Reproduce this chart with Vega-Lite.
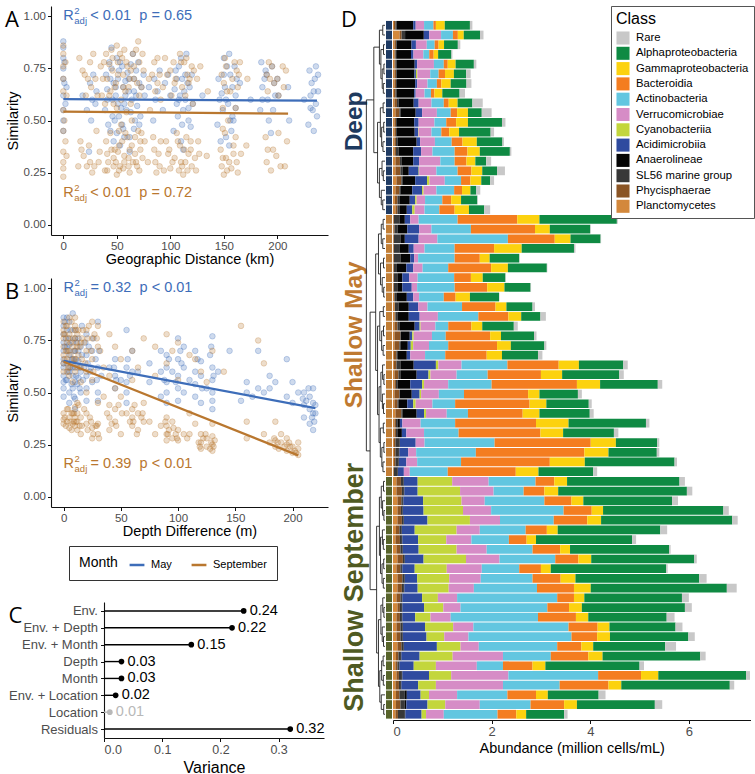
{
  "$schema": "https://vega.github.io/schema/vega-lite/v6.json",
  "background": "white",
  "padding": {"left": 5, "top": 5, "right": 2, "bottom": 2},
  "config": {
    "view": {"stroke": null},
    "font": "Liberation Sans",
    "axis": {"domainColor": "#111", "domainWidth": 1.1, "tickColor": "#111", "tickSize": 3.5, "labelColor": "#4d4d4d", "labelFontSize": 11.5, "titleFontSize": 14.5, "titleFontWeight": "normal", "titleColor": "#000", "grid": false, "labelPadding": 2},
    "title": {"anchor": "start", "frame": "bounds", "baseline": "top", "offset": -26, "fontSize": 22, "fontWeight": "normal", "font": "Open Sans", "color": "#000"}
  },
  "datasets": {
    "geo": [
      {"d":0,"s":0.88,"m":"May"},{"d":0,"s":0.85,"m":"May"},{"d":0,"s":0.80,"m":"May"},{"d":0,"s":0.75,"m":"May"},{"d":0,"s":0.70,"m":"May"},{"d":0,"s":0.62,"m":"May"},{"d":0,"s":0.55,"m":"May"},{"d":0,"s":0.50,"m":"May"},{"d":0,"s":0.45,"m":"May"},
      {"d":18,"s":0.62,"m":"May"},{"d":22,"s":0.55,"m":"May"},{"d":25,"s":0.68,"m":"May"},{"d":27,"s":0.60,"m":"May"},{"d":24,"s":0.35,"m":"May"},{"d":31,"s":0.64,"m":"May"},{"d":30,"s":0.58,"m":"May"},
      {"d":40,"s":0.72,"m":"May"},{"d":41,"s":0.65,"m":"May"},{"d":39,"s":0.55,"m":"May"},{"d":42,"s":0.48,"m":"May"},
      {"d":45,"s":0.85,"m":"May"},{"d":45,"s":0.75,"m":"May"},{"d":46,"s":0.60,"m":"May"},{"d":44,"s":0.45,"m":"May"},{"d":47,"s":0.40,"m":"May"},
      {"d":50,"s":0.80,"m":"May"},{"d":51,"s":0.70,"m":"May"},{"d":49,"s":0.62,"m":"May"},{"d":52,"s":0.52,"m":"May"},{"d":50,"s":0.44,"m":"May"},{"d":53,"s":0.38,"m":"May"},
      {"d":55,"s":0.76,"m":"May"},{"d":56,"s":0.66,"m":"May"},{"d":57,"s":0.58,"m":"May"},{"d":55,"s":0.48,"m":"May"},
      {"d":60,"s":0.73,"m":"May"},{"d":61,"s":0.64,"m":"May"},{"d":59,"s":0.55,"m":"May"},{"d":62,"s":0.42,"m":"May"},
      {"d":65,"s":0.82,"m":"May"},{"d":66,"s":0.70,"m":"May"},{"d":64,"s":0.60,"m":"May"},{"d":67,"s":0.50,"m":"May"},
      {"d":70,"s":0.78,"m":"May"},{"d":71,"s":0.68,"m":"May"},{"d":69,"s":0.57,"m":"May"},{"d":75,"s":0.72,"m":"May"},{"d":76,"s":0.62,"m":"May"},
      {"d":85,"s":0.70,"m":"May"},{"d":86,"s":0.60,"m":"May"},{"d":84,"s":0.50,"m":"May"},{"d":95,"s":0.68,"m":"May"},{"d":93,"s":0.55,"m":"May"},
      {"d":105,"s":0.74,"m":"May"},{"d":104,"s":0.65,"m":"May"},{"d":106,"s":0.58,"m":"May"},{"d":103,"s":0.45,"m":"May"},
      {"d":110,"s":0.80,"m":"May"},{"d":111,"s":0.70,"m":"May"},{"d":109,"s":0.62,"m":"May"},{"d":112,"s":0.55,"m":"May"},{"d":110,"s":0.40,"m":"May"},
      {"d":115,"s":0.82,"m":"May"},{"d":116,"s":0.68,"m":"May"},{"d":114,"s":0.60,"m":"May"},{"d":117,"s":0.50,"m":"May"},{"d":120,"s":0.72,"m":"May"},{"d":121,"s":0.58,"m":"May"},{"d":130,"s":0.62,"m":"May"},
      {"d":145,"s":0.70,"m":"May"},{"d":146,"s":0.60,"m":"May"},{"d":144,"s":0.48,"m":"May"},
      {"d":150,"s":0.80,"m":"May"},{"d":151,"s":0.66,"m":"May"},{"d":149,"s":0.55,"m":"May"},{"d":152,"s":0.42,"m":"May"},
      {"d":155,"s":0.82,"m":"May"},{"d":156,"s":0.72,"m":"May"},{"d":154,"s":0.58,"m":"May"},{"d":157,"s":0.45,"m":"May"},{"d":155,"s":0.38,"m":"May"},
      {"d":160,"s":0.76,"m":"May"},{"d":161,"s":0.62,"m":"May"},{"d":159,"s":0.50,"m":"May"},{"d":165,"s":0.68,"m":"May"},{"d":175,"s":0.60,"m":"May"},
      {"d":185,"s":0.78,"m":"May"},{"d":186,"s":0.66,"m":"May"},{"d":184,"s":0.55,"m":"May"},{"d":190,"s":0.72,"m":"May"},{"d":191,"s":0.60,"m":"May"},
      {"d":195,"s":0.76,"m":"May"},{"d":196,"s":0.55,"m":"May"},{"d":194,"s":0.44,"m":"May"},{"d":200,"s":0.70,"m":"May"},{"d":201,"s":0.62,"m":"May"},
      {"d":210,"s":0.66,"m":"May"},{"d":211,"s":0.50,"m":"May"},{"d":225,"s":0.60,"m":"May"},
      {"d":230,"s":0.74,"m":"May"},{"d":231,"s":0.62,"m":"May"},{"d":229,"s":0.48,"m":"May"},{"d":235,"s":0.70,"m":"May"},{"d":236,"s":0.58,"m":"May"},{"d":234,"s":0.45,"m":"May"},{"d":238,"s":0.64,"m":"May"},{"d":237,"s":0.52,"m":"May"},
      {"d":43,"s":0.78,"m":"May"},{"d":47,"s":0.68,"m":"May"},{"d":52,"s":0.74,"m":"May"},{"d":54,"s":0.56,"m":"May"},{"d":58,"s":0.69,"m":"May"},{"d":63,"s":0.77,"m":"May"},{"d":68,"s":0.62,"m":"May"},{"d":72,"s":0.52,"m":"May"},{"d":48,"s":0.50,"m":"May"},{"d":57,"s":0.42,"m":"May"},{"d":62,"s":0.35,"m":"May"},{"d":66,"s":0.46,"m":"May"},
      {"d":108,"s":0.76,"m":"May"},{"d":113,"s":0.64,"m":"May"},{"d":118,"s":0.66,"m":"May"},{"d":107,"s":0.52,"m":"May"},{"d":119,"s":0.47,"m":"May"},{"d":112,"s":0.36,"m":"May"},
      {"d":148,"s":0.63,"m":"May"},{"d":153,"s":0.76,"m":"May"},{"d":158,"s":0.52,"m":"May"},{"d":162,"s":0.70,"m":"May"},{"d":147,"s":0.40,"m":"May"},{"d":232,"s":0.68,"m":"May"},{"d":236,"s":0.76,"m":"May"},{"d":233,"s":0.55,"m":"May"},
      {"d":188,"s":0.70,"m":"May"},{"d":198,"s":0.62,"m":"May"},{"d":192,"s":0.50,"m":"May"},{"d":3,"s":0.66,"m":"May"},{"d":2,"s":0.58,"m":"May"},{"d":28,"s":0.72,"m":"May"},{"d":80,"s":0.66,"m":"May"},{"d":90,"s":0.74,"m":"May"},{"d":100,"s":0.62,"m":"May"},
      {"d":41,"s":0.60,"m":"May"},{"d":44,"s":0.70,"m":"May"},{"d":46,"s":0.52,"m":"May"},{"d":49,"s":0.66,"m":"May"},{"d":51,"s":0.58,"m":"May"},{"d":53,"s":0.78,"m":"May"},{"d":56,"s":0.46,"m":"May"},{"d":58,"s":0.62,"m":"May"},{"d":61,"s":0.70,"m":"May"},{"d":63,"s":0.54,"m":"May"},{"d":66,"s":0.64,"m":"May"},{"d":68,"s":0.74,"m":"May"},{"d":71,"s":0.48,"m":"May"},{"d":73,"s":0.66,"m":"May"},
      {"d":106,"s":0.70,"m":"May"},{"d":108,"s":0.60,"m":"May"},{"d":111,"s":0.48,"m":"May"},{"d":114,"s":0.72,"m":"May"},{"d":117,"s":0.56,"m":"May"},{"d":150,"s":0.72,"m":"May"},{"d":152,"s":0.60,"m":"May"},{"d":156,"s":0.50,"m":"May"},{"d":158,"s":0.66,"m":"May"},{"d":161,"s":0.56,"m":"May"},
      {"d":186,"s":0.60,"m":"May"},{"d":189,"s":0.74,"m":"May"},{"d":197,"s":0.68,"m":"May"},{"d":231,"s":0.56,"m":"May"},{"d":234,"s":0.64,"m":"May"},{"d":238,"s":0.72,"m":"May"},{"d":1,"s":0.78,"m":"May"},{"d":1,"s":0.68,"m":"May"},{"d":26,"s":0.50,"m":"May"},{"d":88,"s":0.64,"m":"May"},{"d":98,"s":0.72,"m":"May"},
      {"d":0,"s":0.86,"m":"September"},{"d":0,"s":0.82,"m":"September"},{"d":0,"s":0.76,"m":"September"},{"d":0,"s":0.70,"m":"September"},{"d":0,"s":0.64,"m":"September"},{"d":0,"s":0.55,"m":"September"},{"d":0,"s":0.45,"m":"September"},{"d":0,"s":0.35,"m":"September"},{"d":0,"s":0.30,"m":"September"},{"d":0,"s":0.27,"m":"September"},{"d":0,"s":0.23,"m":"September"},
      {"d":15,"s":0.80,"m":"September"},{"d":16,"s":0.40,"m":"September"},{"d":14,"s":0.28,"m":"September"},
      {"d":20,"s":0.72,"m":"September"},{"d":21,"s":0.62,"m":"September"},{"d":19,"s":0.33,"m":"September"},
      {"d":25,"s":0.78,"m":"September"},{"d":26,"s":0.66,"m":"September"},{"d":24,"s":0.38,"m":"September"},{"d":25,"s":0.30,"m":"September"},{"d":27,"s":0.25,"m":"September"},
      {"d":30,"s":0.70,"m":"September"},{"d":31,"s":0.45,"m":"September"},{"d":29,"s":0.28,"m":"September"},
      {"d":35,"s":0.76,"m":"September"},{"d":36,"s":0.62,"m":"September"},{"d":34,"s":0.35,"m":"September"},
      {"d":40,"s":0.82,"m":"September"},{"d":41,"s":0.70,"m":"September"},{"d":39,"s":0.58,"m":"September"},{"d":40,"s":0.40,"m":"September"},{"d":42,"s":0.30,"m":"September"},{"d":41,"s":0.26,"m":"September"},
      {"d":45,"s":0.84,"m":"September"},{"d":46,"s":0.74,"m":"September"},{"d":44,"s":0.64,"m":"September"},{"d":45,"s":0.36,"m":"September"},{"d":47,"s":0.28,"m":"September"},
      {"d":50,"s":0.86,"m":"September"},{"d":51,"s":0.78,"m":"September"},{"d":49,"s":0.68,"m":"September"},{"d":50,"s":0.56,"m":"September"},{"d":52,"s":0.45,"m":"September"},{"d":51,"s":0.35,"m":"September"},{"d":49,"s":0.30,"m":"September"},{"d":50,"s":0.24,"m":"September"},
      {"d":55,"s":0.80,"m":"September"},{"d":56,"s":0.72,"m":"September"},{"d":54,"s":0.60,"m":"September"},{"d":55,"s":0.40,"m":"September"},{"d":57,"s":0.33,"m":"September"},{"d":56,"s":0.27,"m":"September"},
      {"d":60,"s":0.76,"m":"September"},{"d":61,"s":0.66,"m":"September"},{"d":59,"s":0.54,"m":"September"},{"d":60,"s":0.42,"m":"September"},{"d":62,"s":0.36,"m":"September"},{"d":61,"s":0.28,"m":"September"},
      {"d":65,"s":0.82,"m":"September"},{"d":66,"s":0.70,"m":"September"},{"d":64,"s":0.38,"m":"September"},{"d":65,"s":0.30,"m":"September"},
      {"d":70,"s":0.88,"m":"September"},{"d":71,"s":0.78,"m":"September"},{"d":69,"s":0.68,"m":"September"},{"d":70,"s":0.45,"m":"September"},{"d":72,"s":0.36,"m":"September"},{"d":71,"s":0.26,"m":"September"},
      {"d":75,"s":0.74,"m":"September"},{"d":76,"s":0.40,"m":"September"},{"d":74,"s":0.32,"m":"September"},
      {"d":80,"s":0.70,"m":"September"},{"d":81,"s":0.55,"m":"September"},{"d":79,"s":0.30,"m":"September"},
      {"d":85,"s":0.78,"m":"September"},{"d":86,"s":0.64,"m":"September"},{"d":84,"s":0.42,"m":"September"},{"d":85,"s":0.36,"m":"September"},{"d":87,"s":0.25,"m":"September"},
      {"d":90,"s":0.72,"m":"September"},{"d":91,"s":0.60,"m":"September"},{"d":89,"s":0.34,"m":"September"},{"d":90,"s":0.28,"m":"September"},
      {"d":95,"s":0.80,"m":"September"},{"d":96,"s":0.40,"m":"September"},
      {"d":100,"s":0.74,"m":"September"},{"d":101,"s":0.62,"m":"September"},{"d":99,"s":0.36,"m":"September"},{"d":100,"s":0.27,"m":"September"},
      {"d":105,"s":0.70,"m":"September"},{"d":106,"s":0.44,"m":"September"},{"d":104,"s":0.32,"m":"September"},
      {"d":110,"s":0.78,"m":"September"},{"d":111,"s":0.66,"m":"September"},{"d":109,"s":0.38,"m":"September"},{"d":110,"s":0.30,"m":"September"},{"d":112,"s":0.24,"m":"September"},
      {"d":115,"s":0.80,"m":"September"},{"d":116,"s":0.72,"m":"September"},{"d":114,"s":0.62,"m":"September"},{"d":115,"s":0.42,"m":"September"},{"d":117,"s":0.34,"m":"September"},{"d":116,"s":0.26,"m":"September"},
      {"d":120,"s":0.76,"m":"September"},{"d":121,"s":0.58,"m":"September"},{"d":119,"s":0.36,"m":"September"},{"d":120,"s":0.28,"m":"September"},
      {"d":125,"s":0.70,"m":"September"},{"d":126,"s":0.40,"m":"September"},{"d":135,"s":0.64,"m":"September"},{"d":134,"s":0.33,"m":"September"},
      {"d":148,"s":0.72,"m":"September"},{"d":149,"s":0.56,"m":"September"},{"d":147,"s":0.36,"m":"September"},{"d":148,"s":0.28,"m":"September"},{"d":150,"s":0.24,"m":"September"},
      {"d":152,"s":0.76,"m":"September"},{"d":153,"s":0.64,"m":"September"},{"d":151,"s":0.44,"m":"September"},{"d":152,"s":0.32,"m":"September"},
      {"d":158,"s":0.70,"m":"September"},{"d":159,"s":0.38,"m":"September"},{"d":157,"s":0.27,"m":"September"},
      {"d":162,"s":0.74,"m":"September"},{"d":163,"s":0.66,"m":"September"},{"d":161,"s":0.42,"m":"September"},{"d":162,"s":0.30,"m":"September"},
      {"d":165,"s":0.78,"m":"September"},{"d":166,"s":0.34,"m":"September"},{"d":172,"s":0.70,"m":"September"},{"d":171,"s":0.38,"m":"September"},
      {"d":190,"s":0.72,"m":"September"},{"d":191,"s":0.64,"m":"September"},{"d":189,"s":0.42,"m":"September"},{"d":190,"s":0.30,"m":"September"},
      {"d":195,"s":0.76,"m":"September"},{"d":196,"s":0.36,"m":"September"},{"d":194,"s":0.26,"m":"September"},
      {"d":200,"s":0.70,"m":"September"},{"d":201,"s":0.62,"m":"September"},{"d":199,"s":0.33,"m":"September"},
      {"d":208,"s":0.74,"m":"September"},{"d":209,"s":0.40,"m":"September"},{"d":207,"s":0.28,"m":"September"},
      {"d":43,"s":0.77,"m":"September"},{"d":48,"s":0.66,"m":"September"},{"d":53,"s":0.82,"m":"September"},{"d":58,"s":0.64,"m":"September"},{"d":63,"s":0.74,"m":"September"},{"d":68,"s":0.84,"m":"September"},{"d":73,"s":0.66,"m":"September"},
      {"d":47,"s":0.32,"m":"September"},{"d":52,"s":0.38,"m":"September"},{"d":57,"s":0.30,"m":"September"},{"d":62,"s":0.25,"m":"September"},{"d":67,"s":0.34,"m":"September"},{"d":72,"s":0.40,"m":"September"},{"d":44,"s":0.44,"m":"September"},{"d":54,"s":0.48,"m":"September"},{"d":64,"s":0.50,"m":"September"},
      {"d":83,"s":0.72,"m":"September"},{"d":88,"s":0.80,"m":"September"},{"d":93,"s":0.66,"m":"September"},{"d":98,"s":0.34,"m":"September"},{"d":103,"s":0.78,"m":"September"},{"d":108,"s":0.26,"m":"September"},{"d":113,"s":0.36,"m":"September"},{"d":118,"s":0.70,"m":"September"},{"d":123,"s":0.32,"m":"September"},{"d":128,"s":0.76,"m":"September"},{"d":113,"s":0.78,"m":"September"},
      {"d":150,"s":0.68,"m":"September"},{"d":155,"s":0.30,"m":"September"},{"d":160,"s":0.78,"m":"September"},{"d":163,"s":0.25,"m":"September"},{"d":154,"s":0.50,"m":"September"},{"d":192,"s":0.78,"m":"September"},{"d":197,"s":0.68,"m":"September"},{"d":203,"s":0.28,"m":"September"},{"d":206,"s":0.66,"m":"September"},
      {"d":2,"s":0.78,"m":"September"},{"d":2,"s":0.40,"m":"September"},{"d":18,"s":0.74,"m":"September"},{"d":22,"s":0.28,"m":"September"},{"d":33,"s":0.30,"m":"September"},{"d":37,"s":0.70,"m":"September"},
      {"d":41,"s":0.34,"m":"September"},{"d":43,"s":0.62,"m":"September"},{"d":46,"s":0.80,"m":"September"},{"d":48,"s":0.36,"m":"September"},{"d":51,"s":0.72,"m":"September"},{"d":53,"s":0.28,"m":"September"},{"d":56,"s":0.66,"m":"September"},{"d":58,"s":0.44,"m":"September"},{"d":59,"s":0.78,"m":"September"},{"d":61,"s":0.32,"m":"September"},
      {"d":63,"s":0.58,"m":"September"},{"d":66,"s":0.76,"m":"September"},{"d":68,"s":0.30,"m":"September"},{"d":71,"s":0.62,"m":"September"},{"d":73,"s":0.44,"m":"September"},{"d":74,"s":0.82,"m":"September"},{"d":47,"s":0.58,"m":"September"},{"d":52,"s":0.26,"m":"September"},{"d":57,"s":0.84,"m":"September"},{"d":62,"s":0.70,"m":"September"},
      {"d":67,"s":0.42,"m":"September"},{"d":69,"s":0.28,"m":"September"},{"d":86,"s":0.30,"m":"September"},{"d":88,"s":0.68,"m":"September"},{"d":91,"s":0.40,"m":"September"},{"d":94,"s":0.26,"m":"September"},{"d":97,"s":0.72,"m":"September"},{"d":102,"s":0.30,"m":"September"},{"d":104,"s":0.68,"m":"September"},{"d":107,"s":0.40,"m":"September"},
      {"d":109,"s":0.82,"m":"September"},{"d":111,"s":0.28,"m":"September"},{"d":114,"s":0.30,"m":"September"},{"d":117,"s":0.68,"m":"September"},{"d":119,"s":0.40,"m":"September"},{"d":122,"s":0.74,"m":"September"},{"d":124,"s":0.26,"m":"September"},{"d":127,"s":0.34,"m":"September"},
      {"d":149,"s":0.46,"m":"September"},{"d":151,"s":0.80,"m":"September"},{"d":153,"s":0.26,"m":"September"},{"d":156,"s":0.64,"m":"September"},{"d":159,"s":0.34,"m":"September"},{"d":161,"s":0.56,"m":"September"},{"d":164,"s":0.72,"m":"September"},{"d":149,"s":0.32,"m":"September"},
      {"d":191,"s":0.36,"m":"September"},{"d":193,"s":0.70,"m":"September"},{"d":201,"s":0.44,"m":"September"},{"d":205,"s":0.76,"m":"September"},{"d":3,"s":0.62,"m":"September"},{"d":3,"s":0.33,"m":"September"},{"d":1,"s":0.50,"m":"September"},{"d":17,"s":0.36,"m":"September"},{"d":23,"s":0.70,"m":"September"},{"d":28,"s":0.82,"m":"September"},{"d":32,"s":0.62,"m":"September"},{"d":38,"s":0.78,"m":"September"},{"d":39,"s":0.26,"m":"September"}
    ],
    "depth": [
      {"d":0,"s":0.86,"m":"May"},{"d":0,"s":0.82,"m":"May"},{"d":0,"s":0.78,"m":"May"},{"d":0,"s":0.74,"m":"May"},{"d":0,"s":0.70,"m":"May"},{"d":0,"s":0.66,"m":"May"},{"d":0,"s":0.62,"m":"May"},{"d":0,"s":0.58,"m":"May"},{"d":0,"s":0.55,"m":"May"},{"d":0,"s":0.52,"m":"May"},{"d":0,"s":0.48,"m":"May"},
      {"d":3,"s":0.80,"m":"May"},{"d":3,"s":0.72,"m":"May"},{"d":3,"s":0.64,"m":"May"},{"d":3,"s":0.56,"m":"May"},
      {"d":5,"s":0.84,"m":"May"},{"d":5,"s":0.76,"m":"May"},{"d":5,"s":0.68,"m":"May"},{"d":5,"s":0.60,"m":"May"},{"d":5,"s":0.50,"m":"May"},{"d":5,"s":0.45,"m":"May"},
      {"d":8,"s":0.88,"m":"May"},{"d":8,"s":0.74,"m":"May"},{"d":8,"s":0.66,"m":"May"},{"d":8,"s":0.58,"m":"May"},{"d":8,"s":0.52,"m":"May"},
      {"d":10,"s":0.80,"m":"May"},{"d":10,"s":0.70,"m":"May"},{"d":10,"s":0.62,"m":"May"},{"d":10,"s":0.55,"m":"May"},{"d":10,"s":0.47,"m":"May"},{"d":10,"s":0.42,"m":"May"},
      {"d":13,"s":0.76,"m":"May"},{"d":13,"s":0.65,"m":"May"},{"d":13,"s":0.57,"m":"May"},
      {"d":15,"s":0.72,"m":"May"},{"d":15,"s":0.60,"m":"May"},{"d":15,"s":0.50,"m":"May"},
      {"d":20,"s":0.78,"m":"May"},{"d":20,"s":0.68,"m":"May"},{"d":20,"s":0.58,"m":"May"},{"d":20,"s":0.52,"m":"May"},{"d":20,"s":0.46,"m":"May"},
      {"d":25,"s":0.70,"m":"May"},{"d":25,"s":0.55,"m":"May"},
      {"d":30,"s":0.84,"m":"May"},{"d":30,"s":0.62,"m":"May"},{"d":30,"s":0.50,"m":"May"},{"d":30,"s":0.46,"m":"May"},
      {"d":45,"s":0.66,"m":"May"},{"d":45,"s":0.58,"m":"May"},{"d":45,"s":0.52,"m":"May"},
      {"d":55,"s":0.80,"m":"May"},{"d":55,"s":0.62,"m":"May"},{"d":55,"s":0.55,"m":"May"},{"d":55,"s":0.50,"m":"May"},{"d":55,"s":0.45,"m":"May"},
      {"d":60,"s":0.70,"m":"May"},{"d":60,"s":0.60,"m":"May"},{"d":75,"s":0.64,"m":"May"},{"d":75,"s":0.55,"m":"May"},
      {"d":85,"s":0.70,"m":"May"},{"d":85,"s":0.60,"m":"May"},{"d":85,"s":0.48,"m":"May"},
      {"d":90,"s":0.68,"m":"May"},{"d":90,"s":0.62,"m":"May"},{"d":90,"s":0.55,"m":"May"},{"d":90,"s":0.50,"m":"May"},{"d":90,"s":0.45,"m":"May"},
      {"d":100,"s":0.76,"m":"May"},{"d":100,"s":0.66,"m":"May"},{"d":100,"s":0.58,"m":"May"},{"d":100,"s":0.52,"m":"May"},{"d":100,"s":0.46,"m":"May"},
      {"d":105,"s":0.72,"m":"May"},{"d":105,"s":0.62,"m":"May"},{"d":105,"s":0.50,"m":"May"},
      {"d":115,"s":0.70,"m":"May"},{"d":115,"s":0.60,"m":"May"},{"d":115,"s":0.54,"m":"May"},{"d":115,"s":0.48,"m":"May"},
      {"d":120,"s":0.65,"m":"May"},{"d":120,"s":0.58,"m":"May"},{"d":120,"s":0.45,"m":"May"},
      {"d":130,"s":0.77,"m":"May"},{"d":130,"s":0.62,"m":"May"},{"d":130,"s":0.56,"m":"May"},{"d":130,"s":0.50,"m":"May"},{"d":130,"s":0.46,"m":"May"},{"d":130,"s":0.42,"m":"May"},
      {"d":145,"s":0.70,"m":"May"},{"d":155,"s":0.46,"m":"May"},{"d":160,"s":0.55,"m":"May"},{"d":160,"s":0.50,"m":"May"},
      {"d":170,"s":0.70,"m":"May"},{"d":170,"s":0.52,"m":"May"},{"d":175,"s":0.50,"m":"May"},{"d":180,"s":0.58,"m":"May"},{"d":180,"s":0.52,"m":"May"},
      {"d":195,"s":0.66,"m":"May"},{"d":195,"s":0.48,"m":"May"},{"d":200,"s":0.55,"m":"May"},{"d":200,"s":0.45,"m":"May"},
      {"d":210,"s":0.50,"m":"May"},{"d":210,"s":0.44,"m":"May"},{"d":210,"s":0.38,"m":"May"},
      {"d":215,"s":0.48,"m":"May"},{"d":215,"s":0.42,"m":"May"},{"d":215,"s":0.35,"m":"May"},
      {"d":218,"s":0.52,"m":"May"},{"d":218,"s":0.45,"m":"May"},{"d":218,"s":0.40,"m":"May"},{"d":218,"s":0.32,"m":"May"},
      {"d":1,"s":0.84,"m":"May"},{"d":2,"s":0.76,"m":"May"},{"d":4,"s":0.70,"m":"May"},{"d":6,"s":0.62,"m":"May"},{"d":7,"s":0.54,"m":"May"},{"d":9,"s":0.48,"m":"May"},{"d":11,"s":0.66,"m":"May"},{"d":12,"s":0.74,"m":"May"},{"d":14,"s":0.52,"m":"May"},{"d":16,"s":0.82,"m":"May"},
      {"d":18,"s":0.62,"m":"May"},{"d":22,"s":0.72,"m":"May"},{"d":23,"s":0.60,"m":"May"},{"d":28,"s":0.66,"m":"May"},{"d":33,"s":0.58,"m":"May"},{"d":40,"s":0.62,"m":"May"},{"d":50,"s":0.56,"m":"May"},{"d":65,"s":0.60,"m":"May"},{"d":95,"s":0.60,"m":"May"},{"d":102,"s":0.70,"m":"May"},
      {"d":110,"s":0.56,"m":"May"},{"d":125,"s":0.52,"m":"May"},{"d":128,"s":0.68,"m":"May"},{"d":135,"s":0.60,"m":"May"},{"d":165,"s":0.48,"m":"May"},{"d":185,"s":0.55,"m":"May"},{"d":205,"s":0.50,"m":"May"},{"d":212,"s":0.46,"m":"May"},{"d":220,"s":0.40,"m":"May"},{"d":219,"s":0.36,"m":"May"},
      {"d":0,"s":0.64,"m":"May"},{"d":1,"s":0.72,"m":"May"},{"d":2,"s":0.56,"m":"May"},{"d":3,"s":0.86,"m":"May"},{"d":4,"s":0.60,"m":"May"},{"d":5,"s":0.73,"m":"May"},{"d":6,"s":0.80,"m":"May"},{"d":7,"s":0.66,"m":"May"},{"d":8,"s":0.62,"m":"May"},{"d":9,"s":0.70,"m":"May"},
      {"d":10,"s":0.76,"m":"May"},{"d":11,"s":0.58,"m":"May"},{"d":12,"s":0.54,"m":"May"},{"d":13,"s":0.70,"m":"May"},{"d":14,"s":0.62,"m":"May"},{"d":16,"s":0.68,"m":"May"},{"d":17,"s":0.56,"m":"May"},{"d":19,"s":0.74,"m":"May"},{"d":21,"s":0.64,"m":"May"},{"d":24,"s":0.62,"m":"May"},
      {"d":26,"s":0.76,"m":"May"},{"d":29,"s":0.56,"m":"May"},{"d":31,"s":0.70,"m":"May"},{"d":44,"s":0.62,"m":"May"},{"d":46,"s":0.56,"m":"May"},{"d":56,"s":0.66,"m":"May"},{"d":58,"s":0.58,"m":"May"},{"d":88,"s":0.56,"m":"May"},{"d":92,"s":0.66,"m":"May"},{"d":98,"s":0.55,"m":"May"},
      {"d":103,"s":0.64,"m":"May"},{"d":117,"s":0.66,"m":"May"},{"d":121,"s":0.52,"m":"May"},{"d":129,"s":0.72,"m":"May"},{"d":131,"s":0.58,"m":"May"},{"d":209,"s":0.47,"m":"May"},{"d":214,"s":0.52,"m":"May"},{"d":217,"s":0.38,"m":"May"},{"d":220,"s":0.44,"m":"May"},
      {"d":0,"s":0.84,"m":"September"},{"d":0,"s":0.80,"m":"September"},{"d":0,"s":0.76,"m":"September"},{"d":0,"s":0.72,"m":"September"},{"d":0,"s":0.68,"m":"September"},{"d":0,"s":0.64,"m":"September"},{"d":0,"s":0.60,"m":"September"},{"d":0,"s":0.40,"m":"September"},{"d":0,"s":0.37,"m":"September"},{"d":0,"s":0.35,"m":"September"},
      {"d":3,"s":0.82,"m":"September"},{"d":3,"s":0.74,"m":"September"},{"d":3,"s":0.70,"m":"September"},{"d":3,"s":0.66,"m":"September"},{"d":3,"s":0.42,"m":"September"},{"d":3,"s":0.36,"m":"September"},
      {"d":5,"s":0.86,"m":"September"},{"d":5,"s":0.78,"m":"September"},{"d":5,"s":0.70,"m":"September"},{"d":5,"s":0.62,"m":"September"},{"d":5,"s":0.58,"m":"September"},{"d":5,"s":0.38,"m":"September"},{"d":5,"s":0.33,"m":"September"},
      {"d":8,"s":0.80,"m":"September"},{"d":8,"s":0.72,"m":"September"},{"d":8,"s":0.64,"m":"September"},{"d":8,"s":0.55,"m":"September"},{"d":8,"s":0.40,"m":"September"},{"d":8,"s":0.35,"m":"September"},
      {"d":10,"s":0.86,"m":"September"},{"d":10,"s":0.82,"m":"September"},{"d":10,"s":0.76,"m":"September"},{"d":10,"s":0.70,"m":"September"},{"d":10,"s":0.66,"m":"September"},{"d":10,"s":0.60,"m":"September"},{"d":10,"s":0.43,"m":"September"},{"d":10,"s":0.38,"m":"September"},{"d":10,"s":0.34,"m":"September"},
      {"d":12,"s":0.78,"m":"September"},{"d":12,"s":0.72,"m":"September"},{"d":12,"s":0.45,"m":"September"},{"d":12,"s":0.36,"m":"September"},{"d":12,"s":0.32,"m":"September"},
      {"d":15,"s":0.74,"m":"September"},{"d":15,"s":0.62,"m":"September"},{"d":15,"s":0.55,"m":"September"},{"d":15,"s":0.38,"m":"September"},{"d":15,"s":0.30,"m":"September"},
      {"d":20,"s":0.80,"m":"September"},{"d":20,"s":0.70,"m":"September"},{"d":20,"s":0.60,"m":"September"},{"d":20,"s":0.50,"m":"September"},{"d":20,"s":0.40,"m":"September"},{"d":20,"s":0.35,"m":"September"},
      {"d":25,"s":0.84,"m":"September"},{"d":25,"s":0.76,"m":"September"},{"d":25,"s":0.66,"m":"September"},{"d":25,"s":0.56,"m":"September"},{"d":25,"s":0.33,"m":"September"},{"d":25,"s":0.28,"m":"September"},
      {"d":30,"s":0.82,"m":"September"},{"d":30,"s":0.72,"m":"September"},{"d":30,"s":0.45,"m":"September"},{"d":30,"s":0.35,"m":"September"},{"d":30,"s":0.30,"m":"September"},
      {"d":35,"s":0.62,"m":"September"},{"d":35,"s":0.48,"m":"September"},
      {"d":40,"s":0.78,"m":"September"},{"d":40,"s":0.58,"m":"September"},{"d":40,"s":0.44,"m":"September"},{"d":40,"s":0.38,"m":"September"},{"d":40,"s":0.32,"m":"September"},
      {"d":45,"s":0.72,"m":"September"},{"d":45,"s":0.52,"m":"September"},{"d":45,"s":0.42,"m":"September"},{"d":45,"s":0.36,"m":"September"},
      {"d":50,"s":0.66,"m":"September"},{"d":50,"s":0.48,"m":"September"},{"d":50,"s":0.30,"m":"September"},
      {"d":60,"s":0.70,"m":"September"},{"d":60,"s":0.56,"m":"September"},{"d":60,"s":0.42,"m":"September"},{"d":60,"s":0.38,"m":"September"},{"d":60,"s":0.34,"m":"September"},
      {"d":65,"s":0.62,"m":"September"},{"d":65,"s":0.40,"m":"September"},{"d":65,"s":0.32,"m":"September"},
      {"d":70,"s":0.76,"m":"September"},{"d":70,"s":0.45,"m":"September"},{"d":70,"s":0.36,"m":"September"},
      {"d":80,"s":0.72,"m":"September"},{"d":80,"s":0.58,"m":"September"},{"d":80,"s":0.30,"m":"September"},
      {"d":90,"s":0.78,"m":"September"},{"d":90,"s":0.64,"m":"September"},{"d":90,"s":0.38,"m":"September"},{"d":90,"s":0.34,"m":"September"},{"d":90,"s":0.30,"m":"September"},{"d":90,"s":0.27,"m":"September"},
      {"d":95,"s":0.70,"m":"September"},{"d":95,"s":0.36,"m":"September"},{"d":95,"s":0.28,"m":"September"},
      {"d":100,"s":0.74,"m":"September"},{"d":100,"s":0.56,"m":"September"},{"d":100,"s":0.32,"m":"September"},{"d":100,"s":0.27,"m":"September"},
      {"d":110,"s":0.68,"m":"September"},{"d":110,"s":0.40,"m":"September"},{"d":110,"s":0.30,"m":"September"},
      {"d":115,"s":0.66,"m":"September"},{"d":115,"s":0.35,"m":"September"},
      {"d":120,"s":0.60,"m":"September"},{"d":120,"s":0.30,"m":"September"},{"d":120,"s":0.26,"m":"September"},{"d":120,"s":0.23,"m":"September"},
      {"d":125,"s":0.55,"m":"September"},{"d":125,"s":0.28,"m":"September"},{"d":125,"s":0.24,"m":"September"},
      {"d":130,"s":0.70,"m":"September"},{"d":130,"s":0.35,"m":"September"},{"d":130,"s":0.29,"m":"September"},{"d":130,"s":0.25,"m":"September"},{"d":130,"s":0.22,"m":"September"},
      {"d":140,"s":0.60,"m":"September"},{"d":155,"s":0.82,"m":"September"},{"d":160,"s":0.36,"m":"September"},{"d":160,"s":0.28,"m":"September"},
      {"d":170,"s":0.75,"m":"September"},{"d":175,"s":0.64,"m":"September"},{"d":175,"s":0.30,"m":"September"},
      {"d":185,"s":0.36,"m":"September"},{"d":185,"s":0.27,"m":"September"},{"d":185,"s":0.24,"m":"September"},
      {"d":190,"s":0.30,"m":"September"},{"d":190,"s":0.26,"m":"September"},
      {"d":195,"s":0.28,"m":"September"},{"d":195,"s":0.25,"m":"September"},{"d":195,"s":0.22,"m":"September"},
      {"d":200,"s":0.24,"m":"September"},{"d":200,"s":0.21,"m":"September"},
      {"d":205,"s":0.26,"m":"September"},{"d":205,"s":0.23,"m":"September"},{"d":205,"s":0.20,"m":"September"},
      {"d":1,"s":0.78,"m":"September"},{"d":2,"s":0.70,"m":"September"},{"d":4,"s":0.62,"m":"September"},{"d":6,"s":0.74,"m":"September"},{"d":7,"s":0.40,"m":"September"},{"d":9,"s":0.36,"m":"September"},{"d":11,"s":0.80,"m":"September"},{"d":13,"s":0.68,"m":"September"},{"d":14,"s":0.34,"m":"September"},{"d":16,"s":0.76,"m":"September"},
      {"d":18,"s":0.42,"m":"September"},{"d":19,"s":0.64,"m":"September"},{"d":22,"s":0.82,"m":"September"},{"d":23,"s":0.38,"m":"September"},{"d":27,"s":0.78,"m":"September"},{"d":28,"s":0.34,"m":"September"},{"d":32,"s":0.70,"m":"September"},{"d":38,"s":0.40,"m":"September"},{"d":42,"s":0.35,"m":"September"},{"d":48,"s":0.44,"m":"September"},
      {"d":55,"s":0.40,"m":"September"},{"d":58,"s":0.36,"m":"September"},{"d":62,"s":0.44,"m":"September"},{"d":68,"s":0.38,"m":"September"},{"d":75,"s":0.36,"m":"September"},{"d":85,"s":0.34,"m":"September"},{"d":92,"s":0.32,"m":"September"},{"d":98,"s":0.30,"m":"September"},{"d":105,"s":0.30,"m":"September"},{"d":108,"s":0.28,"m":"September"},
      {"d":118,"s":0.26,"m":"September"},{"d":122,"s":0.28,"m":"September"},{"d":128,"s":0.23,"m":"September"},{"d":132,"s":0.27,"m":"September"},{"d":180,"s":0.26,"m":"September"},{"d":188,"s":0.23,"m":"September"},{"d":198,"s":0.24,"m":"September"},{"d":202,"s":0.22,"m":"September"},
      {"d":0,"s":0.78,"m":"September"},{"d":1,"s":0.66,"m":"September"},{"d":2,"s":0.82,"m":"September"},{"d":3,"s":0.60,"m":"September"},{"d":4,"s":0.76,"m":"September"},{"d":6,"s":0.68,"m":"September"},{"d":7,"s":0.84,"m":"September"},{"d":8,"s":0.76,"m":"September"},{"d":9,"s":0.66,"m":"September"},{"d":11,"s":0.74,"m":"September"},
      {"d":12,"s":0.62,"m":"September"},{"d":13,"s":0.80,"m":"September"},{"d":14,"s":0.72,"m":"September"},{"d":16,"s":0.66,"m":"September"},{"d":17,"s":0.80,"m":"September"},{"d":18,"s":0.74,"m":"September"},{"d":21,"s":0.76,"m":"September"},{"d":24,"s":0.70,"m":"September"},{"d":26,"s":0.60,"m":"September"},{"d":29,"s":0.76,"m":"September"},
      {"d":1,"s":0.38,"m":"September"},{"d":2,"s":0.34,"m":"September"},{"d":4,"s":0.42,"m":"September"},{"d":6,"s":0.36,"m":"September"},{"d":7,"s":0.32,"m":"September"},{"d":9,"s":0.40,"m":"September"},{"d":11,"s":0.36,"m":"September"},{"d":12,"s":0.40,"m":"September"},{"d":13,"s":0.44,"m":"September"},{"d":16,"s":0.34,"m":"September"},
      {"d":21,"s":0.32,"m":"September"},{"d":24,"s":0.36,"m":"September"},{"d":26,"s":0.30,"m":"September"},{"d":29,"s":0.34,"m":"September"},{"d":31,"s":0.28,"m":"September"},{"d":46,"s":0.34,"m":"September"},{"d":51,"s":0.40,"m":"September"},{"d":61,"s":0.36,"m":"September"},{"d":64,"s":0.30,"m":"September"},{"d":69,"s":0.40,"m":"September"},
      {"d":89,"s":0.36,"m":"September"},{"d":91,"s":0.30,"m":"September"},{"d":96,"s":0.33,"m":"September"},{"d":99,"s":0.28,"m":"September"},{"d":119,"s":0.24,"m":"September"},{"d":124,"s":0.30,"m":"September"},{"d":129,"s":0.26,"m":"September"},{"d":131,"s":0.24,"m":"September"},{"d":184,"s":0.28,"m":"September"},{"d":187,"s":0.26,"m":"September"},
      {"d":193,"s":0.24,"m":"September"},{"d":197,"s":0.26,"m":"September"},{"d":203,"s":0.21,"m":"September"}
    ],
    "geoFit": [
      {"m":"May","x0":0,"x1":237,"y0":0.603,"y1":0.595},
      {"m":"September","x0":0,"x1":210,"y0":0.543,"y1":0.533}
    ],
    "depthFit": [
      {"m":"May","x0":0,"x1":220,"y0":0.652,"y1":0.425},
      {"m":"September","x0":0,"x1":205,"y0":0.648,"y1":0.198}
    ],
    "geoStats": [
      {"m":"May","x":0,"y":1.0,"stat":"< 0.01","p":"p = 0.65"},
      {"m":"September","x":0,"y":0.15,"stat":"< 0.01","p":"p = 0.72"}
    ],
    "depthStats": [
      {"m":"May","x":0,"y":1.0,"stat":"= 0.32","p":"p < 0.01"},
      {"m":"September","x":0,"y":0.155,"stat":"= 0.39","p":"p < 0.01"}
    ],
    "variance": [
      {"t":"Env.","v":0.24,"sig":"yes"},
      {"t":"Env. + Depth","v":0.22,"sig":"yes"},
      {"t":"Env. + Month","v":0.15,"sig":"yes"},
      {"t":"Depth","v":0.03,"sig":"yes"},
      {"t":"Month","v":0.03,"sig":"yes"},
      {"t":"Env. + Location","v":0.02,"sig":"yes"},
      {"t":"Location","v":0.01,"sig":"no"},
      {"t":"Residuals","v":0.32,"sig":"yes"}
    ],
    "classes": [
      {"code":"Pl","name":"Planctomycetes","rank":1},
      {"code":"Ph","name":"Phycisphaerae","rank":2},
      {"code":"SL","name":"SL56 marine group","rank":3},
      {"code":"An","name":"Anaerolineae","rank":4},
      {"code":"Ac","name":"Acidimicrobiia","rank":5},
      {"code":"Cy","name":"Cyanobacteriia","rank":6},
      {"code":"Ve","name":"Verrucomicrobiae","rank":7},
      {"code":"At","name":"Actinobacteria","rank":8},
      {"code":"Ba","name":"Bacteroidia","rank":9},
      {"code":"Ga","name":"Gammaproteobacteria","rank":10},
      {"code":"Al","name":"Alphaproteobacteria","rank":11},
      {"code":"Ra","name":"Rare","rank":12}
    ],
    "groups": [
      {"g":"Deep","pos":10.9},
      {"g":"Shallow May","pos":32.9},
      {"g":"Shallow September","pos":58.9}
    ],
    "samples": [
      {"id":1,"g":"Deep","Pl":0.02,"Ph":0.03,"SL":0.02,"An":0.34,"Ac":0.05,"Cy":0,"Ve":0.17,"At":0.19,"Ba":0.05,"Ga":0.18,"Al":0.51,"Ra":0.05},
      {"id":2,"g":"Deep","Pl":0.135,"Ph":0.04,"SL":0.07,"An":0.38,"Ac":0.11,"Cy":0,"Ve":0.24,"At":0.24,"Ba":0.10,"Ga":0.12,"Al":0.33,"Ra":0.07},
      {"id":3,"g":"Deep","Pl":0.03,"Ph":0.03,"SL":0.015,"An":0.30,"Ac":0.09,"Cy":0,"Ve":0.22,"At":0.16,"Ba":0.08,"Ga":0.11,"Al":0.28,"Ra":0.05},
      {"id":4,"g":"Deep","Pl":0.03,"Ph":0.02,"SL":0.015,"An":0.30,"Ac":0.05,"Cy":0,"Ve":0.20,"At":0.12,"Ba":0.09,"Ga":0.09,"Al":0.27,"Ra":0.02},
      {"id":5,"g":"Deep","Pl":0.03,"Ph":0.02,"SL":0.02,"An":0.37,"Ac":0.05,"Cy":0,"Ve":0.34,"At":0.20,"Ba":0.08,"Ga":0.16,"Al":0.37,"Ra":0.05},
      {"id":6,"g":"Deep","Pl":0.03,"Ph":0.03,"SL":0.015,"An":0.36,"Ac":0.03,"Cy":0.03,"Ve":0.26,"At":0.17,"Ba":0.13,"Ga":0.18,"Al":0.25,"Ra":0.09},
      {"id":7,"g":"Deep","Pl":0.03,"Ph":0.03,"SL":0.02,"An":0.37,"Ac":0.04,"Cy":0,"Ve":0.21,"At":0.19,"Ba":0.09,"Ga":0.19,"Al":0.32,"Ra":0.10},
      {"id":8,"g":"Deep","Pl":0.02,"Ph":0.03,"SL":0.02,"An":0.36,"Ac":0.03,"Cy":0,"Ve":0.18,"At":0.13,"Ba":0.07,"Ga":0.16,"Al":0.35,"Ra":0.11},
      {"id":9,"g":"Deep","Pl":0.03,"Ph":0.05,"SL":0.03,"An":0.31,"Ac":0.10,"Cy":0,"Ve":0.26,"At":0.25,"Ba":0.10,"Ga":0.18,"Al":0.30,"Ra":0.21},
      {"id":10,"g":"Deep","Pl":0.05,"Ph":0.08,"SL":0.02,"An":0.31,"Ac":0.13,"Cy":0,"Ve":0.30,"At":0.28,"Ba":0.13,"Ga":0.22,"Al":0.28,"Ra":0.20},
      {"id":11,"g":"Deep","Pl":0.03,"Ph":0.03,"SL":0.02,"An":0.35,"Ac":0.09,"Cy":0,"Ve":0.32,"At":0.24,"Ba":0.20,"Ga":0.24,"Al":0.69,"Ra":0.07},
      {"id":12,"g":"Deep","Pl":0.03,"Ph":0.03,"SL":0.02,"An":0.36,"Ac":0.07,"Cy":0.01,"Ve":0.26,"At":0.20,"Ba":0.16,"Ga":0.20,"Al":0.64,"Ra":0.07},
      {"id":13,"g":"Deep","Pl":0.03,"Ph":0.03,"SL":0.03,"An":0.39,"Ac":0.07,"Cy":0,"Ve":0.30,"At":0.34,"Ba":0.22,"Ga":0.29,"Al":0.52,"Ra":0.03},
      {"id":14,"g":"Deep","Pl":0.03,"Ph":0.03,"SL":0.05,"An":0.30,"Ac":0.16,"Cy":0,"Ve":0.23,"At":0.45,"Ba":0.26,"Ga":0.25,"Al":0.61,"Ra":0.03},
      {"id":15,"g":"Deep","Pl":0.05,"Ph":0.09,"SL":0.03,"An":0.24,"Ac":0.12,"Cy":0,"Ve":0.43,"At":0.29,"Ba":0.24,"Ga":0.18,"Al":0.22,"Ra":0.10},
      {"id":16,"g":"Deep","Pl":0.05,"Ph":0.10,"SL":0.05,"An":0.12,"Ac":0.20,"Cy":0.01,"Ve":0.35,"At":0.43,"Ba":0.28,"Ga":0.22,"Al":0.30,"Ra":0.16},
      {"id":17,"g":"Deep","Pl":0.07,"Ph":0.10,"SL":0.03,"An":0.25,"Ac":0.24,"Cy":0.05,"Ve":0.31,"At":0.33,"Ba":0.19,"Ga":0.22,"Al":0.18,"Ra":0.08},
      {"id":18,"g":"Deep","Pl":0.05,"Ph":0.08,"SL":0.03,"An":0.23,"Ac":0.20,"Cy":0.03,"Ve":0.26,"At":0.36,"Ba":0.16,"Ga":0.17,"Al":0.12,"Ra":0.08},
      {"id":19,"g":"Deep","Pl":0.04,"Ph":0.05,"SL":0.05,"An":0.20,"Ac":0.11,"Cy":0.03,"Ve":0.17,"At":0.35,"Ba":0.18,"Ga":0.20,"Al":0.33,"Ra":0.01},
      {"id":20,"g":"Deep","Pl":0.05,"Ph":0.04,"SL":0.05,"An":0.14,"Ac":0.11,"Cy":0.05,"Ve":0.20,"At":0.30,"Ba":0.31,"Ga":0.29,"Al":0.31,"Ra":0.12},
      {"id":21,"g":"Shallow May","Pl":0.01,"Ph":0.01,"SL":0.11,"An":0.11,"Ac":0.11,"Cy":0,"Ve":0.17,"At":0.79,"Ba":1.21,"Ga":0.45,"Al":1.57,"Ra":0.02},
      {"id":22,"g":"Shallow May","Pl":0.01,"Ph":0.02,"SL":0.06,"An":0.20,"Ac":0.24,"Cy":0,"Ve":0.25,"At":0.80,"Ba":1.30,"Ga":0.30,"Al":0.82,"Ra":0.01},
      {"id":23,"g":"Shallow May","Pl":0.01,"Ph":0.01,"SL":0.13,"An":0.09,"Ac":0.28,"Cy":0,"Ve":0.38,"At":1.43,"Ba":0.95,"Ga":0.32,"Al":0.61,"Ra":0.01},
      {"id":24,"g":"Shallow May","Pl":0.01,"Ph":0.01,"SL":0.12,"An":0.18,"Ac":0.10,"Cy":0,"Ve":0.22,"At":0.61,"Ba":0.80,"Ga":0.56,"Al":1.06,"Ra":0.03},
      {"id":25,"g":"Shallow May","Pl":0.01,"Ph":0.01,"SL":0.13,"An":0.20,"Ac":0.08,"Cy":0,"Ve":0.08,"At":0.74,"Ba":0.51,"Ga":0.20,"Al":0.60,"Ra":0.01},
      {"id":26,"g":"Shallow May","Pl":0.01,"Ph":0.01,"SL":0.06,"An":0.19,"Ac":0.14,"Cy":0,"Ve":0.19,"At":0.52,"Ba":0.87,"Ga":0.34,"Al":0.79,"Ra":0.01},
      {"id":27,"g":"Shallow May","Pl":0.01,"Ph":0.01,"SL":0.08,"An":0.09,"Ac":0.14,"Cy":0,"Ve":0.17,"At":0.74,"Ba":0.34,"Ga":0.24,"Al":0.46,"Ra":0.01},
      {"id":28,"g":"Shallow May","Pl":0.01,"Ph":0.01,"SL":0.08,"An":0.09,"Ac":0.19,"Cy":0,"Ve":0.11,"At":0.76,"Ba":0.66,"Ga":0.35,"Al":0.53,"Ra":0.01},
      {"id":29,"g":"Shallow May","Pl":0.02,"Ph":0.01,"SL":0.05,"An":0.20,"Ac":0.13,"Cy":0,"Ve":0.12,"At":0.50,"Ba":0.24,"Ga":0.29,"Al":0.59,"Ra":0.01},
      {"id":30,"g":"Shallow May","Pl":0.03,"Ph":0.01,"SL":0.07,"An":0.21,"Ac":0.19,"Cy":0,"Ve":0.19,"At":0.70,"Ba":0.68,"Ga":0.22,"Al":0.53,"Ra":0.05},
      {"id":31,"g":"Shallow May","Pl":0.03,"Ph":0.02,"SL":0.05,"An":0.22,"Ac":0.22,"Cy":0,"Ve":0.37,"At":0.82,"Ba":0.61,"Ga":0.26,"Al":0.39,"Ra":0.11},
      {"id":32,"g":"Shallow May","Pl":0.03,"Ph":0.06,"SL":0.05,"An":0.30,"Ac":0.10,"Cy":0.02,"Ve":0.30,"At":0.26,"Ba":0.47,"Ga":0.22,"Al":0.64,"Ra":0.08},
      {"id":33,"g":"Shallow May","Pl":0.03,"Ph":0.12,"SL":0.01,"An":0.18,"Ac":0.05,"Cy":0.03,"Ve":0.37,"At":0.28,"Ba":0.90,"Ga":0.22,"Al":0.67,"Ra":0.05},
      {"id":34,"g":"Shallow May","Pl":0.03,"Ph":0.10,"SL":0.03,"An":0.14,"Ac":0.06,"Cy":0.05,"Ve":0.32,"At":0.39,"Ba":0.99,"Ga":0.28,"Al":0.68,"Ra":0.04},
      {"id":35,"g":"Shallow May","Pl":0.02,"Ph":0.05,"SL":0.03,"An":0.18,"Ac":0.07,"Cy":0,"Ve":0.30,"At":0.41,"Ba":0.84,"Ga":0.31,"Al":0.73,"Ra":0.09},
      {"id":36,"g":"Shallow May","Pl":0.02,"Ph":0.05,"SL":0.08,"An":0.27,"Ac":0.45,"Cy":0.05,"Ve":0.47,"At":0.93,"Ba":1.04,"Ga":0.41,"Al":0.90,"Ra":0.09},
      {"id":37,"g":"Shallow May","Pl":0.03,"Ph":0.08,"SL":0.05,"An":0.32,"Ac":0.24,"Cy":0.04,"Ve":0.53,"At":0.63,"Ba":1.08,"Ga":0.43,"Al":1.16,"Ra":0.09},
      {"id":38,"g":"Shallow May","Pl":0.03,"Ph":0.03,"SL":0.03,"An":0.26,"Ac":0.24,"Cy":0.04,"Ve":0.49,"At":0.88,"Ba":1.73,"Ga":0.47,"Al":1.17,"Ra":0.09},
      {"id":39,"g":"Shallow May","Pl":0.03,"Ph":0.10,"SL":0.01,"An":0.24,"Ac":0.16,"Cy":0.03,"Ve":0.36,"At":0.51,"Ba":1.30,"Ga":0.23,"Al":0.78,"Ra":0.08},
      {"id":40,"g":"Shallow May","Pl":0.03,"Ph":0.06,"SL":0.02,"An":0.18,"Ac":0.12,"Cy":0.05,"Ve":0.34,"At":0.46,"Ba":1.51,"Ga":0.34,"Al":0.86,"Ra":0.06},
      {"id":41,"g":"Shallow May","Pl":0.05,"Ph":0.12,"SL":0.02,"An":0.29,"Ac":0.15,"Cy":0.04,"Ve":0.42,"At":0.43,"Ba":1.11,"Ga":0.34,"Al":1.02,"Ra":0.08},
      {"id":42,"g":"Shallow May","Pl":0.03,"Ph":0.03,"SL":0.03,"An":0.05,"Ac":0.05,"Cy":0,"Ve":0.37,"At":0.70,"Ba":1.64,"Ga":0.66,"Al":1.57,"Ra":0.07},
      {"id":43,"g":"Shallow May","Pl":0.03,"Ph":0.03,"SL":0.04,"An":0.08,"Ac":0.09,"Cy":0,"Ve":0.36,"At":0.70,"Ba":1.66,"Ga":0.46,"Al":1.03,"Ra":0.09},
      {"id":44,"g":"Shallow May","Pl":0.02,"Ph":0.03,"SL":0.08,"An":0.01,"Ac":0.32,"Cy":0,"Ve":0.18,"At":1.42,"Ba":1.95,"Ga":0.51,"Al":0.84,"Ra":0.04},
      {"id":45,"g":"Shallow May","Pl":0.02,"Ph":0.03,"SL":0.07,"An":0.01,"Ac":0.18,"Cy":0,"Ve":0.16,"At":1.21,"Ba":2.20,"Ga":0.49,"Al":0.98,"Ra":0.05},
      {"id":46,"g":"Shallow May","Pl":0.02,"Ph":0.03,"SL":0.06,"An":0.01,"Ac":0.15,"Cy":0,"Ve":0.22,"At":0.89,"Ba":1.80,"Ga":0.71,"Al":1.82,"Ra":0.05},
      {"id":47,"g":"Shallow May","Pl":0.01,"Ph":0.01,"SL":0.07,"An":0.01,"Ac":0.12,"Cy":0,"Ve":0.12,"At":0.77,"Ba":1.38,"Ga":0.46,"Al":1.11,"Ra":0.08},
      {"id":48,"g":"Shallow September","Pl":0.07,"Ph":0.09,"SL":0.05,"An":0.01,"Ac":0.28,"Cy":0.70,"Ve":0.74,"At":0.95,"Ba":0.38,"Ga":0.26,"Al":2.28,"Ra":0.11},
      {"id":49,"g":"Shallow September","Pl":0.07,"Ph":0.11,"SL":0.04,"An":0.01,"Ac":0.27,"Cy":0.86,"Ve":0.68,"At":0.61,"Ba":0.42,"Ga":0.28,"Al":2.61,"Ra":0.11},
      {"id":50,"g":"Shallow September","Pl":0.09,"Ph":0.08,"SL":0.03,"An":0.01,"Ac":0.40,"Cy":0.78,"Ve":0.47,"At":1.21,"Ba":0.55,"Ga":0.24,"Al":1.80,"Ra":0.12},
      {"id":51,"g":"Shallow September","Pl":0.09,"Ph":0.07,"SL":0.03,"An":0.01,"Ac":0.42,"Cy":0.80,"Ve":0.57,"At":1.47,"Ba":0.57,"Ga":0.23,"Al":2.44,"Ra":0.11},
      {"id":52,"g":"Shallow September","Pl":0.09,"Ph":0.09,"SL":0.03,"An":0.01,"Ac":0.48,"Cy":0.86,"Ve":0.61,"At":1.09,"Ba":0.68,"Ga":0.28,"Al":2.66,"Ra":0.11},
      {"id":53,"g":"Shallow September","Pl":0.06,"Ph":0.07,"SL":0.04,"An":0.01,"Ac":0.26,"Cy":0.85,"Ve":0.47,"At":0.93,"Ba":0.43,"Ga":0.22,"Al":2.08,"Ra":0.14},
      {"id":54,"g":"Shallow September","Pl":0.05,"Ph":0.09,"SL":0.04,"An":0.01,"Ac":0.32,"Cy":0.57,"Ve":0.51,"At":0.76,"Ba":0.36,"Ga":0.19,"Al":1.95,"Ra":0.08},
      {"id":55,"g":"Shallow September","Pl":0.07,"Ph":0.08,"SL":0.04,"An":0.01,"Ac":0.32,"Cy":0.77,"Ve":0.61,"At":0.93,"Ba":0.56,"Ga":0.20,"Al":2.01,"Ra":0.03},
      {"id":56,"g":"Shallow September","Pl":0.09,"Ph":0.11,"SL":0.03,"An":0.01,"Ac":0.38,"Cy":0.86,"Ve":0.68,"At":1.13,"Ba":0.47,"Ga":0.26,"Al":2.09,"Ra":0.05},
      {"id":57,"g":"Shallow September","Pl":0.07,"Ph":0.08,"SL":0.03,"An":0.01,"Ac":0.25,"Cy":0.65,"Ve":0.71,"At":0.76,"Ba":0.44,"Ga":0.20,"Al":2.34,"Ra":0.03},
      {"id":58,"g":"Shallow September","Pl":0.09,"Ph":0.10,"SL":0.04,"An":0.01,"Ac":0.25,"Cy":0.65,"Ve":0.64,"At":1.05,"Ba":0.57,"Ga":0.30,"Al":2.51,"Ra":0.15},
      {"id":59,"g":"Shallow September","Pl":0.09,"Ph":0.09,"SL":0.04,"An":0.01,"Ac":0.27,"Cy":0.63,"Ve":0.51,"At":1.28,"Ba":0.75,"Ga":0.34,"Al":2.76,"Ra":0.20},
      {"id":60,"g":"Shallow September","Pl":0.07,"Ph":0.08,"SL":0.03,"An":0.01,"Ac":0.40,"Cy":0.32,"Ve":0.39,"At":2.03,"Ba":0.34,"Ga":0.21,"Al":1.98,"Ra":0.14},
      {"id":61,"g":"Shallow September","Pl":0.09,"Ph":0.05,"SL":0.04,"An":0.01,"Ac":0.44,"Cy":0.39,"Ve":0.35,"At":1.76,"Ba":0.44,"Ga":0.26,"Al":2.09,"Ra":0.14},
      {"id":62,"g":"Shallow September","Pl":0.07,"Ph":0.07,"SL":0.04,"An":0.01,"Ac":0.26,"Cy":0.31,"Ve":0.41,"At":1.77,"Ba":0.77,"Ga":0.25,"Al":1.59,"Ra":0.16},
      {"id":63,"g":"Shallow September","Pl":0.07,"Ph":0.08,"SL":0.04,"An":0.01,"Ac":0.45,"Cy":0.57,"Ve":0.41,"At":1.93,"Ba":0.59,"Ga":0.24,"Al":1.34,"Ra":0.14},
      {"id":64,"g":"Shallow September","Pl":0.07,"Ph":0.08,"SL":0.04,"An":0.01,"Ac":0.48,"Cy":0.36,"Ve":0.49,"At":2.09,"Ba":0.52,"Ga":0.26,"Al":1.59,"Ra":0.13},
      {"id":65,"g":"Shallow September","Pl":0.09,"Ph":0.08,"SL":0.04,"An":0.01,"Ac":0.67,"Cy":0.48,"Ve":0.37,"At":1.59,"Ba":0.49,"Ga":0.24,"Al":1.46,"Ra":0.22},
      {"id":66,"g":"Shallow September","Pl":0.06,"Ph":0.05,"SL":0.05,"An":0.01,"Ac":0.37,"Cy":0.67,"Ve":1.02,"At":0.97,"Ba":0.76,"Ga":0.29,"Al":1.98,"Ra":0.11},
      {"id":67,"g":"Shallow September","Pl":0.05,"Ph":0.04,"SL":0.03,"An":0.01,"Ac":0.29,"Cy":0.45,"Ve":0.83,"At":0.53,"Ba":0.60,"Ga":0.26,"Al":1.91,"Ra":0.09},
      {"id":68,"g":"Shallow September","Pl":0.07,"Ph":0.05,"SL":0.06,"An":0.01,"Ac":0.54,"Cy":0.45,"Ve":1.16,"At":1.82,"Ba":0.87,"Ga":0.35,"Al":1.78,"Ra":0.08},
      {"id":69,"g":"Shallow September","Pl":0.05,"Ph":0.07,"SL":0.04,"An":0.01,"Ac":0.34,"Cy":0.36,"Ve":1.36,"At":1.15,"Ba":0.99,"Ga":0.26,"Al":2.20,"Ra":0.09},
      {"id":70,"g":"Shallow September","Pl":0.06,"Ph":0.07,"SL":0.11,"An":0.04,"Ac":0.28,"Cy":0.17,"Ve":0.57,"At":1.02,"Ba":0.58,"Ga":0.24,"Al":1.03,"Ra":0.14},
      {"id":71,"g":"Shallow September","Pl":0.06,"Ph":0.09,"SL":0.09,"An":0.03,"Ac":0.43,"Cy":0.36,"Ve":0.70,"At":1.03,"Ba":0.68,"Ga":0.26,"Al":1.58,"Ra":0.15},
      {"id":72,"g":"Shallow September","Pl":0.05,"Ph":0.05,"SL":0.14,"An":0.01,"Ac":0.33,"Cy":0.09,"Ve":0.36,"At":1.09,"Ba":0.38,"Ga":0.20,"Al":0.77,"Ra":0.07}
    ],
    "tree": [
      {"h":1.2,"ya":1,"yb":2,"ha":0,"hb":0},{"h":0.8,"ya":3,"yb":4,"ha":0,"hb":0},{"h":0.6,"ya":5,"yb":6,"ha":0,"hb":0},{"h":0.9,"ya":7,"yb":8,"ha":0,"hb":0},
      {"h":1.5,"ya":5.5,"yb":7.5,"ha":0.6,"hb":0.9},{"h":2.2,"ya":3.5,"yb":6.5,"ha":0.8,"hb":1.5},{"h":3,"ya":1.5,"yb":5,"ha":1.2,"hb":2.2},
      {"h":1,"ya":9,"yb":10,"ha":0,"hb":0},{"h":0.7,"ya":11,"yb":12,"ha":0,"hb":0},{"h":1.1,"ya":13,"yb":14,"ha":0,"hb":0},
      {"h":1.8,"ya":11.5,"yb":13.5,"ha":0.7,"hb":1.1},{"h":2.5,"ya":9.5,"yb":12.5,"ha":1,"hb":1.8},
      {"h":0.9,"ya":16,"yb":17,"ha":0,"hb":0},{"h":1.6,"ya":15,"yb":16.5,"ha":0,"hb":0.9},{"h":1.2,"ya":19,"yb":20,"ha":0,"hb":0},{"h":2,"ya":18,"yb":19.5,"ha":0,"hb":1.2},
      {"h":3,"ya":15.75,"yb":18.75,"ha":1.6,"hb":2},{"h":4,"ya":11,"yb":17.25,"ha":2.5,"hb":3},{"h":6,"ya":3.25,"yb":14.125,"ha":3,"hb":4},
      {"h":1,"ya":21,"yb":22,"ha":0,"hb":0},{"h":1.2,"ya":23,"yb":24,"ha":0,"hb":0},{"h":2,"ya":21.5,"yb":23.5,"ha":1,"hb":1.2},
      {"h":0.8,"ya":25,"yb":26,"ha":0,"hb":0},{"h":0.7,"ya":28,"yb":29,"ha":0,"hb":0},{"h":1.5,"ya":27,"yb":28.5,"ha":0,"hb":0.7},
      {"h":2.4,"ya":25.5,"yb":27.75,"ha":0.8,"hb":1.5},{"h":3.5,"ya":22.5,"yb":26.625,"ha":2,"hb":2.4},
      {"h":0.9,"ya":30,"yb":31,"ha":0,"hb":0},{"h":0.8,"ya":32,"yb":33,"ha":0,"hb":0},{"h":1,"ya":34,"yb":35,"ha":0,"hb":0},
      {"h":1.8,"ya":32.5,"yb":34.5,"ha":0.8,"hb":1},{"h":2.8,"ya":30.5,"yb":33.5,"ha":0.9,"hb":1.8},
      {"h":0.6,"ya":37,"yb":38,"ha":0,"hb":0},{"h":1.3,"ya":36,"yb":37.5,"ha":0,"hb":0.6},{"h":0.8,"ya":40,"yb":41,"ha":0,"hb":0},{"h":1.4,"ya":39,"yb":40.5,"ha":0,"hb":0.8},
      {"h":2.2,"ya":36.75,"yb":39.75,"ha":1.3,"hb":1.4},
      {"h":0.9,"ya":42,"yb":43,"ha":0,"hb":0},{"h":0.6,"ya":44,"yb":45,"ha":0,"hb":0},{"h":1.1,"ya":46,"yb":47,"ha":0,"hb":0},
      {"h":1.7,"ya":44.5,"yb":46.5,"ha":0.6,"hb":1.1},{"h":2.5,"ya":42.5,"yb":45.5,"ha":0.9,"hb":1.7},
      {"h":3.2,"ya":38.25,"yb":44,"ha":2.2,"hb":2.5},{"h":4,"ya":32,"yb":41.125,"ha":2.8,"hb":3.2},{"h":5,"ya":24.5625,"yb":36.5625,"ha":3.5,"hb":4},
      {"h":0.8,"ya":48,"yb":49,"ha":0,"hb":0},{"h":0.6,"ya":51,"yb":52,"ha":0,"hb":0},{"h":1.3,"ya":50,"yb":51.5,"ha":0,"hb":0.6},{"h":2,"ya":48.5,"yb":50.75,"ha":0.8,"hb":1.3},
      {"h":0.9,"ya":54,"yb":55,"ha":0,"hb":0},{"h":1.4,"ya":53,"yb":54.5,"ha":0,"hb":0.9},{"h":0.7,"ya":56,"yb":57,"ha":0,"hb":0},{"h":0.9,"ya":58,"yb":59,"ha":0,"hb":0},
      {"h":1.6,"ya":56.5,"yb":58.5,"ha":0.7,"hb":0.9},{"h":2.4,"ya":53.75,"yb":57.5,"ha":1.4,"hb":1.6},{"h":3,"ya":49.625,"yb":55.625,"ha":2,"hb":2.4},
      {"h":0.6,"ya":61,"yb":62,"ha":0,"hb":0},{"h":1.2,"ya":60,"yb":61.5,"ha":0,"hb":0.6},{"h":0.8,"ya":64,"yb":65,"ha":0,"hb":0},{"h":1.5,"ya":63,"yb":64.5,"ha":0,"hb":0.8},
      {"h":2.2,"ya":60.75,"yb":63.75,"ha":1.2,"hb":1.5},
      {"h":1,"ya":66,"yb":67,"ha":0,"hb":0},{"h":0.9,"ya":68,"yb":69,"ha":0,"hb":0},{"h":1.8,"ya":66.5,"yb":68.5,"ha":1,"hb":0.9},
      {"h":0.7,"ya":71,"yb":72,"ha":0,"hb":0},{"h":2,"ya":70,"yb":71.5,"ha":0,"hb":0.7},{"h":2.8,"ya":67.5,"yb":70.75,"ha":1.8,"hb":2},
      {"h":3.5,"ya":62.25,"yb":69.125,"ha":2.2,"hb":2.8},{"h":4.5,"ya":52.625,"yb":65.6875,"ha":3,"hb":3.5},
      {"h":8,"ya":30.5625,"yb":59.15625,"ha":5,"hb":4.5},{"h":10,"ya":8.6875,"yb":44.859375,"ha":6,"hb":8}
    ]
  },
  "concat": [
    {
      "concat": [
        {
          "concat": [
            {
              "width": 277,
              "height": 229,
              "title": {"text": "A"},
              "layer": [
                {
                  "data": {"name": "geo"},
                  "mark": {"type": "point", "filled": true, "size": 32, "fillOpacity": 0.25, "strokeOpacity": 0.35, "strokeWidth": 0.8},
                  "encoding": {
                    "x": {"field": "d", "type": "quantitative", "scale": {"domain": [-11.5, 247.3], "nice": false, "zero": false}, "axis": {"values": [0, 50, 100, 150, 200], "title": "Geographic Distance (km)", "titlePadding": 0}},
                    "y": {"field": "s", "type": "quantitative", "scale": {"domain": [-0.05, 1.05], "nice": false, "zero": false}, "axis": {"values": [0, 0.25, 0.5, 0.75, 1], "format": ".2f", "title": "Similarity", "titlePadding": 3}},
                    "fill": {"field": "m", "type": "nominal", "scale": {"range": ["#3d6db9", "#b9772f"]}, "legend": null},
                    "stroke": {"field": "m", "type": "nominal", "scale": {"range": ["#3d6db9", "#b9772f"]}, "legend": null}
                  }
                },
                {
                  "data": {"name": "geoFit"},
                  "mark": {"type": "rule", "strokeWidth": 2.2},
                  "encoding": {
                    "x": {"field": "x0", "type": "quantitative"},
                    "x2": {"field": "x1"},
                    "y": {"field": "y0", "type": "quantitative"},
                    "y2": {"field": "y1"},
                    "color": {"field": "m", "type": "nominal", "scale": {"domain": ["May", "September"], "range": ["#3d6db9", "#b9772f"]}, "legend": null}
                  }
                },
                {
                  "data": {"name": "geoStats"},
                  "mark": {"type": "text", "align": "left", "baseline": "middle", "fontSize": 14.5},
                  "encoding": {"x": {"field": "x", "type": "quantitative"}, "y": {"field": "y", "type": "quantitative"}, "text": {"value": "R"}, "fill": {"field": "m", "type": "nominal", "legend": null}}
                },
                {
                  "data": {"name": "geoStats"},
                  "mark": {"type": "text", "align": "left", "baseline": "middle", "fontSize": 9.5, "dx": 11, "dy": -5},
                  "encoding": {"x": {"field": "x", "type": "quantitative"}, "y": {"field": "y", "type": "quantitative"}, "text": {"value": "2"}, "fill": {"field": "m", "type": "nominal", "legend": null}}
                },
                {
                  "data": {"name": "geoStats"},
                  "mark": {"type": "text", "align": "left", "baseline": "middle", "fontSize": 9.5, "dx": 11, "dy": 5},
                  "encoding": {"x": {"field": "x", "type": "quantitative"}, "y": {"field": "y", "type": "quantitative"}, "text": {"value": "adj"}, "fill": {"field": "m", "type": "nominal", "legend": null}}
                },
                {
                  "data": {"name": "geoStats"},
                  "mark": {"type": "text", "align": "left", "baseline": "middle", "fontSize": 14.5, "dx": 27},
                  "encoding": {"x": {"field": "x", "type": "quantitative"}, "y": {"field": "y", "type": "quantitative"}, "text": {"field": "stat"}, "fill": {"field": "m", "type": "nominal", "legend": null}}
                },
                {
                  "data": {"name": "geoStats"},
                  "mark": {"type": "text", "align": "left", "baseline": "middle", "fontSize": 14.5, "dx": 76},
                  "encoding": {"x": {"field": "x", "type": "quantitative"}, "y": {"field": "y", "type": "quantitative"}, "text": {"field": "p"}, "fill": {"field": "m", "type": "nominal", "legend": null}}
                }
              ]
            },
            {
              "width": 277,
              "height": 229,
              "title": {"text": "B"},
              "layer": [
                {
                  "data": {"name": "depth"},
                  "mark": {"type": "point", "filled": true, "size": 32, "fillOpacity": 0.25, "strokeOpacity": 0.35, "strokeWidth": 0.8},
                  "encoding": {
                    "x": {"field": "d", "type": "quantitative", "scale": {"domain": [-11, 231], "nice": false, "zero": false}, "axis": {"values": [0, 50, 100, 150, 200], "title": "Depth Difference (m)", "titlePadding": 0}},
                    "y": {"field": "s", "type": "quantitative", "scale": {"domain": [-0.05, 1.05], "nice": false, "zero": false}, "axis": {"values": [0, 0.25, 0.5, 0.75, 1], "format": ".2f", "title": "Similarity", "titlePadding": 3}},
                    "fill": {"field": "m", "type": "nominal", "scale": {"range": ["#3d6db9", "#b9772f"]}, "legend": null},
                    "stroke": {"field": "m", "type": "nominal", "scale": {"range": ["#3d6db9", "#b9772f"]}, "legend": null}
                  }
                },
                {
                  "data": {"name": "depthFit"},
                  "mark": {"type": "rule", "strokeWidth": 2.2},
                  "encoding": {
                    "x": {"field": "x0", "type": "quantitative"},
                    "x2": {"field": "x1"},
                    "y": {"field": "y0", "type": "quantitative"},
                    "y2": {"field": "y1"},
                    "color": {
                      "field": "m", "type": "nominal",
                      "scale": {"domain": ["May", "September"], "range": ["#3d6db9", "#b9772f"]},
                      "legend": {"orient": "none", "legendX": 18, "legendY": 268, "direction": "horizontal", "title": "Month", "titleOrient": "left", "titleFontSize": 14, "titleFontWeight": "normal", "titleColor": "#000", "titlePadding": 10, "labelFontSize": 11, "labelColor": "#000", "symbolType": "stroke", "symbolStrokeWidth": 2.5, "symbolSize": 220, "strokeColor": "#333", "fillColor": "#fff", "padding": 10, "columnPadding": 14, "labelOffset": 5}
                    }
                  }
                },
                {
                  "data": {"name": "depthStats"},
                  "mark": {"type": "text", "align": "left", "baseline": "middle", "fontSize": 14.5},
                  "encoding": {"x": {"field": "x", "type": "quantitative"}, "y": {"field": "y", "type": "quantitative"}, "text": {"value": "R"}, "fill": {"field": "m", "type": "nominal", "legend": null}}
                },
                {
                  "data": {"name": "depthStats"},
                  "mark": {"type": "text", "align": "left", "baseline": "middle", "fontSize": 9.5, "dx": 11, "dy": -5},
                  "encoding": {"x": {"field": "x", "type": "quantitative"}, "y": {"field": "y", "type": "quantitative"}, "text": {"value": "2"}, "fill": {"field": "m", "type": "nominal", "legend": null}}
                },
                {
                  "data": {"name": "depthStats"},
                  "mark": {"type": "text", "align": "left", "baseline": "middle", "fontSize": 9.5, "dx": 11, "dy": 5},
                  "encoding": {"x": {"field": "x", "type": "quantitative"}, "y": {"field": "y", "type": "quantitative"}, "text": {"value": "adj"}, "fill": {"field": "m", "type": "nominal", "legend": null}}
                },
                {
                  "data": {"name": "depthStats"},
                  "mark": {"type": "text", "align": "left", "baseline": "middle", "fontSize": 14.5, "dx": 27},
                  "encoding": {"x": {"field": "x", "type": "quantitative"}, "y": {"field": "y", "type": "quantitative"}, "text": {"field": "stat"}, "fill": {"field": "m", "type": "nominal", "legend": null}}
                },
                {
                  "data": {"name": "depthStats"},
                  "mark": {"type": "text", "align": "left", "baseline": "middle", "fontSize": 14.5, "dx": 76},
                  "encoding": {"x": {"field": "x", "type": "quantitative"}, "y": {"field": "y", "type": "quantitative"}, "text": {"field": "p"}, "fill": {"field": "m", "type": "nominal", "legend": null}}
                }
              ]
            }
          ],
          "columns": 1,
          "spacing": 12,
          "resolve": {"scale": {"color": "independent", "fill": "independent", "stroke": "independent"}}
        },
        {
          "width": 273,
          "height": 136,
          "title": {"text": "C"},
          "data": {"name": "variance"},
          "layer": [
            {
              "mark": {"type": "rule", "strokeWidth": 1.4},
              "encoding": {
                "x": {"field": "v", "type": "quantitative", "scale": {"domain": [0, 0.378], "range": [53, 273], "nice": false, "zero": false}, "axis": {"values": [0, 0.1, 0.2, 0.3], "format": ".1f", "title": "Variance", "titleFontSize": 16, "titlePadding": 3, "labelFontSize": 12.5}},
                "x2": {"datum": 0},
                "y": {"field": "t", "type": "nominal", "sort": null, "scale": {"type": "point", "padding": 0.53}, "axis": {"title": null, "labelFontSize": 13, "labelPadding": 3, "offset": -53}},
                "color": {"field": "sig", "type": "nominal", "scale": {"domain": ["yes", "no"], "range": ["#000000", "#b8b8b8"]}, "legend": null}
              }
            },
            {
              "mark": {"type": "point", "filled": true, "size": 32, "opacity": 1},
              "encoding": {
                "x": {"field": "v", "type": "quantitative"},
                "y": {"field": "t", "type": "nominal", "sort": null},
                "color": {"field": "sig", "type": "nominal", "legend": null}
              }
            },
            {
              "mark": {"type": "text", "align": "left", "baseline": "middle", "dx": 6, "fontSize": 14.5},
              "encoding": {
                "x": {"field": "v", "type": "quantitative"},
                "y": {"field": "t", "type": "nominal", "sort": null},
                "text": {"field": "v", "type": "quantitative", "format": ".2f"},
                "color": {"field": "sig", "type": "nominal", "legend": null}
              }
            }
          ]
        }
      ],
      "columns": 1,
      "spacing": 21,
      "resolve": {"scale": {"color": "independent", "fill": "independent", "stroke": "independent"}}
    },
    {
      "concat": [
        {
          "width": 20,
          "height": 714,
          "title": {"text": "D"},
          "data": {"name": "groups"},
          "layer": [
            {
              "transform": [{"filter": "datum.g !== 'Shallow September'"}],
              "mark": {"type": "text", "angle": 270, "fontSize": 24.5, "fontWeight": "bold", "baseline": "middle", "align": "center"},
              "encoding": {
                "y": {"field": "pos", "type": "quantitative", "scale": {"domain": [-0.989, 72.59], "reverse": true, "nice": false, "zero": false}, "axis": null},
                "text": {"field": "g"},
                "color": {"field": "g", "type": "nominal", "scale": {"domain": ["Deep", "Shallow May", "Shallow September"], "range": ["#1e3a5f", "#bf7a31", "#4f5a22"]}, "legend": null}
              }
            },
            {
              "transform": [{"filter": "datum.g === 'Shallow September'"}],
              "mark": {"type": "text", "angle": 270, "fontSize": 27, "fontWeight": "bold", "baseline": "middle", "align": "center"},
              "encoding": {
                "y": {"field": "pos", "type": "quantitative"},
                "text": {"field": "g"},
                "color": {"field": "g", "type": "nominal", "legend": null}
              }
            }
          ]
        },
        {
          "width": 19,
          "height": 714,
          "data": {"name": "tree"},
          "layer": [
            {
              "mark": {"type": "rule", "strokeWidth": 0.9, "color": "#222"},
              "encoding": {
                "x": {"field": "h", "type": "quantitative", "scale": {"domain": [0, 10.2], "reverse": true, "nice": false, "zero": false}, "axis": null},
                "y": {"field": "ya", "type": "quantitative", "scale": {"domain": [-0.989, 72.59], "reverse": true, "nice": false, "zero": false}, "axis": null},
                "y2": {"field": "yb"}
              }
            },
            {
              "mark": {"type": "rule", "strokeWidth": 0.9, "color": "#222"},
              "encoding": {
                "x": {"field": "ha", "type": "quantitative"},
                "x2": {"field": "h"},
                "y": {"field": "ya", "type": "quantitative"}
              }
            },
            {
              "mark": {"type": "rule", "strokeWidth": 0.9, "color": "#222"},
              "encoding": {
                "x": {"field": "hb", "type": "quantitative"},
                "x2": {"field": "h"},
                "y": {"field": "yb", "type": "quantitative"}
              }
            }
          ]
        },
        {
          "width": 6,
          "height": 714,
          "data": {"name": "samples"},
          "mark": {"type": "bar"},
          "encoding": {
            "y": {"field": "id", "type": "ordinal", "scale": {"paddingInner": 0.1, "paddingOuter": 0.84, "align": 0.916}, "axis": null},
            "color": {"field": "g", "type": "nominal", "scale": {"domain": ["Deep", "Shallow May", "Shallow September"], "range": ["#1f3b63", "#c27e35", "#57632a"]}, "legend": null}
          }
        },
        {
          "width": 357.5,
          "height": 714,
          "data": {"name": "samples"},
          "transform": [
            {"fold": ["Pl", "Ph", "SL", "An", "Ac", "Cy", "Ve", "At", "Ba", "Ga", "Al", "Ra"], "as": ["code", "value"]},
            {"lookup": "code", "from": {"data": {"name": "classes"}, "key": "code", "fields": ["name", "rank"]}}
          ],
          "mark": {"type": "bar"},
          "encoding": {
            "x": {"field": "value", "type": "quantitative", "stack": "zero", "scale": {"domain": [0, 7.25], "nice": false}, "axis": {"values": [0, 2, 4, 6], "title": "Abundance (million cells/mL)", "labelFontSize": 13, "titlePadding": 3}},
            "y": {"field": "id", "type": "ordinal", "scale": {"paddingInner": 0.1, "paddingOuter": 0.84, "align": 0.916}, "axis": null},
            "color": {
              "field": "name", "type": "nominal",
              "scale": {
                "domain": ["Rare", "Alphaproteobacteria", "Gammaproteobacteria", "Bacteroidia", "Actinobacteria", "Verrucomicrobiae", "Cyanobacteriia", "Acidimicrobiia", "Anaerolineae", "SL56 marine group", "Phycisphaerae", "Planctomycetes"],
                "range": ["#c8c8c8", "#0f8a43", "#fcd20f", "#f47d20", "#62c6e0", "#d68cc6", "#c3d63c", "#2f4b9f", "#050505", "#383838", "#8a5424", "#d3883c"]
              },
              "legend": {"orient": "none", "legendX": 218, "legendY": 0, "title": "Class", "titleFontSize": 16, "titleFontWeight": "normal", "titleColor": "#000", "titlePadding": 4, "labelFontSize": 11.3, "labelColor": "#000", "symbolType": "square", "symbolSize": 170, "symbolStrokeWidth": 0, "symbolOpacity": 1, "strokeColor": "#555", "fillColor": "#fff", "padding": 5, "rowPadding": 1.3, "labelOffset": 6}
            },
            "order": {"field": "rank", "type": "quantitative", "sort": "ascending"}
          }
        }
      ],
      "columns": 4,
      "spacing": 1,
      "bounds": "flush",
      "resolve": {"scale": {"color": "independent", "fill": "independent", "stroke": "independent"}}
    }
  ],
  "columns": 2,
  "spacing": 13,
  "resolve": {"scale": {"color": "independent", "fill": "independent", "stroke": "independent"}}
}
